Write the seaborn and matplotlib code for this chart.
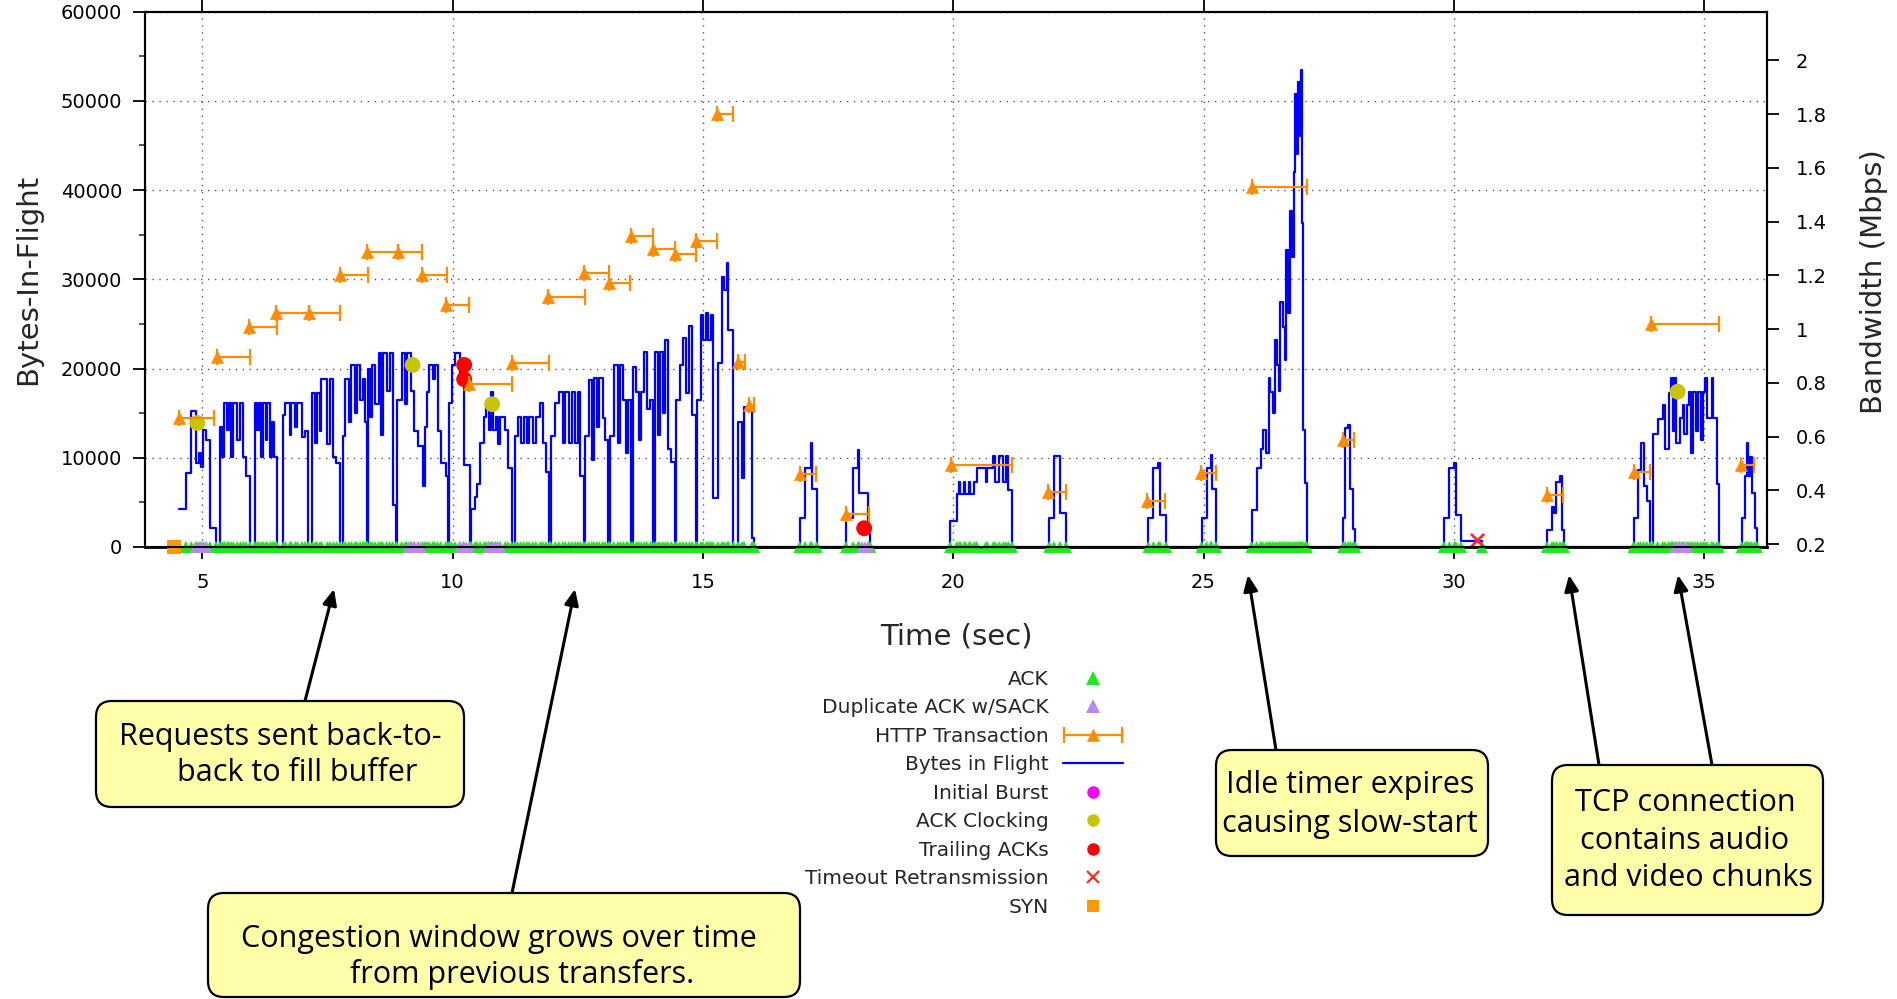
import numpy as np
import matplotlib
matplotlib.use("Agg")
import matplotlib.pyplot as plt
from matplotlib.lines import Line2D
from matplotlib.patches import FancyBboxPatch, FancyArrowPatch
from matplotlib.transforms import IdentityTransform
from matplotlib.legend_handler import HandlerErrorbar
from matplotlib.ticker import MultipleLocator, FormatStrFormatter
import seaborn as sns

sns.set_theme(style="white")
plt.rcParams["font.family"] = ["DejaVu Sans"]

# ---------------------------------------------------------------- data
# Bytes in flight (step curve): time in seconds, bytes outstanding
flight_t = [
    # long transfer 4.5 - 16 s
    4.54, 4.67, 4.78, 4.88, 4.93, 4.98, 5.02, 5.08, 5.15, 5.27,
    5.35, 5.40, 5.44, 5.50, 5.53, 5.58, 5.62, 5.70, 5.76, 5.82, 5.87, 5.95,
    6.05, 6.10, 6.13, 6.18, 6.22, 6.27, 6.30, 6.36, 6.40, 6.44, 6.485,
    6.62, 6.66, 6.75, 6.78, 6.86, 6.90, 6.99, 7.05, 7.12,
    7.20, 7.26, 7.29, 7.35, 7.38, 7.50, 7.55, 7.62, 7.68, 7.75,
    7.82, 7.86, 7.93, 7.98, 8.05, 8.08, 8.15, 8.20, 8.24, 8.28,
    8.30, 8.35, 8.39, 8.45, 8.52, 8.57, 8.60, 8.68, 8.74, 8.80, 8.87,
    8.88, 8.98, 9.05, 9.08, 9.16, 9.22, 9.31, 9.40, 9.45, 9.49, 9.53, 9.60,
    9.64, 9.70, 9.76, 9.86, 9.91,
    9.93, 9.98, 10.05, 10.14, 10.22, 10.35,
    10.37, 10.45, 10.48, 10.55, 10.63, 10.67, 10.72, 10.76, 10.80, 10.86,
    10.90, 10.95, 11.05, 11.10, 11.18,
    11.25, 11.30, 11.36, 11.42, 11.48, 11.53, 11.60, 11.66, 11.75, 11.80, 11.86, 11.93,
    11.96, 12.05, 12.12, 12.20, 12.25, 12.32, 12.38, 12.45, 12.50, 12.55, 12.62,
    12.65, 12.72, 12.78, 12.82, 12.88, 12.93, 13.00, 13.05, 13.11,
    13.14, 13.22, 13.30, 13.35, 13.41, 13.47, 13.50, 13.56,
    13.60, 13.67, 13.72, 13.77, 13.83, 13.88, 13.95, 14.01,
    14.05, 14.10, 14.14, 14.20, 14.25, 14.30, 14.37, 14.44,
    14.47, 14.54, 14.60, 14.66, 14.73, 14.78, 14.86,
    14.88, 14.96, 15.00, 15.07, 15.11, 15.16, 15.20, 15.30, 15.38, 15.42,
    15.48, 15.51, 15.61,
    15.70, 15.78, 15.82, 15.98, 16.02,
    # short transfers
    16.93, 17.04, 17.15, 17.17, 17.27,
    17.86, 18.00, 18.10, 18.12, 18.30, 18.34,
    19.94, 20.07, 20.12, 20.14, 20.22, 20.24, 20.32, 20.34, 20.42, 20.47,
    20.65, 20.68, 20.80, 20.84, 20.92, 21.00, 21.05, 21.10, 21.17,
    21.92, 22.01, 22.13, 22.25,
    23.90, 24.00, 24.10, 24.13, 24.25,
    24.96, 25.06, 25.14, 25.16, 25.25,
    # slow start after idle
    25.96, 26.06, 26.14, 26.18, 26.25, 26.30, 26.33, 26.38, 26.43, 26.47,
    26.51, 26.53, 26.58, 26.62, 26.65, 26.69, 26.73, 26.76, 26.80, 26.83,
    26.86, 26.89, 26.92, 26.94, 26.96, 26.99, 27.03, 27.06,
    27.79, 27.83, 27.89, 27.93, 27.99, 28.03,
    29.80, 29.91, 30.01, 30.04, 30.14, 30.56,
    31.86, 31.96, 32.00, 32.05, 32.12, 32.17, 32.20,
    33.59, 33.68, 33.73, 33.79, 33.85, 33.92,
    33.97, 34.07, 34.17, 34.22, 34.29, 34.34, 34.37, 34.40, 34.44, 34.51,
    34.57, 34.60, 34.65, 34.70, 34.74, 34.78, 34.83, 34.87, 34.93, 34.98,
    35.02, 35.06, 35.15, 35.18, 35.25, 35.29,
    35.75, 35.82, 35.85, 35.87, 35.91, 35.95, 36.01, 36.05,
]
flight_bytes = [
    4300, 8250, 15200, 9400, 10500, 9000, 13100, 12000, 2100, 0,
    13500, 10100, 16100, 13100, 16100, 10100, 16100, 12000, 16100, 10100, 7900, 0,
    16100, 13100, 16100, 10100, 16100, 12000, 16100, 10100, 14000, 10100, 0,
    14800, 16100, 12500, 16100, 13500, 16100, 12300, 13000, 0,
    17300, 11600, 17300, 13000, 18800, 11500, 18800, 10100, 9400, 0,
    12400, 18800, 14000, 20400, 15000, 20400, 16500, 18800, 14000, 0,
    20000, 14600, 20400, 16000, 21700, 12500, 21700, 17500, 21700, 4700, 0,
    16500, 21700, 16000, 21700, 17500, 13000, 11300, 6800, 13500, 17400, 20400, 18800,
    20400, 13000, 9400, 8000, 0,
    16100, 20400, 21700, 19000, 9200, 0,
    4300, 5600, 7100, 11600, 14600, 16100, 13100, 17400, 13100, 14600,
    11500, 14600, 13100, 8800, 0,
    12400, 14600, 11600, 14600, 11600, 14600, 11600, 14600, 16100, 11600, 8400, 0,
    12400, 16100, 17400, 11600, 17400, 11600, 17400, 11600, 17400, 8000, 0,
    12400, 18700, 9800, 18900, 13500, 18900, 14500, 12000, 0,
    12400, 20400, 11600, 20400, 16500, 10500, 16500, 0,
    20200, 17400, 12000, 17400, 21800, 15500, 16500, 0,
    21800, 12500, 21800, 15000, 23200, 11000, 9500, 0,
    16500, 20400, 23400, 17200, 24800, 14800, 0,
    16500, 26000, 23200, 26200, 23200, 26000, 5450, 20600, 30200, 28800,
    31800, 24300, 0,
    14000, 7700, 15700, 1000, 0,
    3300, 8900, 11600, 6500, 0,
    3300, 8900, 10900, 6000, 1500, 0,
    2950, 5900, 7300, 5900, 7300, 5900, 7300, 5900, 7300, 8900,
    7300, 8900, 10200, 7300, 10200, 7300, 10200, 6400, 0,
    3300, 10200, 3800, 0,
    3300, 8900, 9400, 3600, 0,
    3200, 8800, 10300, 6500, 0,
    4200, 8800, 11000, 13100, 10500, 18900, 17400, 15000, 23200, 20400,
    17500, 27500, 24700, 21000, 33300, 26200, 37600, 32500, 42000, 50800,
    44000, 52100, 46000, 53500, 36300, 13100, 7200, 0,
    3300, 13300, 13700, 6500, 2000, 0,
    3300, 8900, 9400, 3600, 700, 0,
    1900, 4500, 3800, 7300, 7900, 1900, 0,
    3300, 8600, 11600, 6800, 5100, 0,
    12700, 14300, 15900, 11000, 17300, 18900, 13000, 18900, 11600, 14400,
    15900, 12700, 15900, 17400, 10500, 17400, 13000, 17400, 12000, 17400,
    18900, 14500, 18900, 14500, 7100, 0,
    3300, 7900, 11600, 7900, 10100, 6000, 2100, 0,
]

# HTTP transactions: request time, completion time, bandwidth (Mbps)
http_start = [4.54, 5.29, 5.93, 6.47, 7.13, 7.75, 8.28, 8.90, 9.39, 9.87,
              10.32, 11.18, 11.91, 12.62, 13.13, 13.56, 14.01, 14.44, 14.86, 15.28,
              15.71, 15.92, 16.93, 17.86, 19.95, 21.90, 23.87, 24.94, 25.96, 27.79,
              31.86, 33.59, 33.93, 35.73]
http_end = [5.24, 5.95, 6.49, 7.13, 7.76, 8.30, 8.90, 9.38, 9.88, 10.33,
            11.18, 11.93, 12.65, 13.13, 13.55, 14.01, 14.44, 14.86, 15.29, 15.61,
            15.84, 16.03, 17.26, 18.32, 21.18, 22.25, 24.23, 25.24, 27.06, 28.01,
            32.18, 33.92, 35.30, 36.00]
http_mbps = [0.670, 0.897, 1.009, 1.059, 1.061, 1.201, 1.288, 1.288, 1.201, 1.090,
             0.796, 0.873, 1.120, 1.208, 1.173, 1.347, 1.297, 1.280, 1.329, 1.802,
             0.876, 0.717, 0.461, 0.312, 0.494, 0.392, 0.360, 0.465, 1.527, 0.587,
             0.382, 0.469, 1.020, 0.494]

# Duplicate ACKs carrying SACK blocks
dup_ack_t = [4.86, 4.92, 4.97, 5.03, 5.08, 9.12, 9.18, 9.24, 9.30, 9.36,
             10.15, 10.21, 10.27, 10.33, 10.72, 10.78, 10.84, 10.90, 10.95,
             18.18, 18.24, 18.30, 34.42, 34.48, 34.54, 34.60, 34.66]

syn_t = [4.43]
clock_t = [4.90, 9.20, 10.79, 34.47]
clock_bytes = [13900, 20400, 16000, 17400]
trail_t = [10.23, 10.23, 18.22]
trail_bytes = [20400, 18800, 2100]
timeout_t = [30.46]
timeout_bytes = [790]

legend_labels = ["ACK", "Duplicate ACK w/SACK", "HTTP Transaction", "Bytes in Flight",
                 "Initial Burst", "ACK Clocking", "Trailing ACKs",
                 "Timeout Retransmission", "SYN"]

callouts = [
    ["Requests sent back-to-", "back to fill buffer"],
    ["Congestion window grows over time", "from previous transfers."],
    ["Idle timer expires", "causing slow-start"],
    ["TCP connection", "contains audio", "and video chunks"],
]

# ---------------------------------------------------------------- style
W, H = 1897, 999
ACK_C = "#1ee81e"
DUP_C = "#b98af0"
HTTP_C = "#ff8c00"
FLIGHT_C = "#0000ff"
BURST_C = "#ff00ff"
CLOCK_C = "#c8c400"
TRAIL_C = "#ff0000"
TIMEOUT_C = "#ff2a2a"
SYN_C = "#ff9900"

fig = plt.figure(figsize=(W / 100, H / 100), dpi=100)
fig.patch.set_facecolor("white")
ax = fig.add_axes([145 / W, 1 - 547 / H, (1767 - 145) / W, (547 - 11.5) / H])
ax.set_facecolor("white")

# bytes-in-flight step curve
sns.lineplot(x=flight_t, y=flight_bytes, ax=ax, color=FLIGHT_C, linewidth=1.6,
             drawstyle="steps-post", estimator=None, sort=False, errorbar=None,
             zorder=3)

zeros = np.zeros(len(flight_t))
sns.scatterplot(x=flight_t, y=zeros, ax=ax, marker="^", s=75, color=ACK_C,
                edgecolor="none", linewidth=0, zorder=4, clip_on=False, legend=False)
sns.scatterplot(x=dup_ack_t, y=np.zeros(len(dup_ack_t)), ax=ax, marker="^", s=70,
                color=DUP_C, edgecolor="none", linewidth=0, zorder=4.5,
                clip_on=False, legend=False)
sns.scatterplot(x=syn_t, y=[0], ax=ax, marker="s", s=110, color=SYN_C,
                edgecolor="none", linewidth=0, zorder=5, clip_on=False, legend=False)
sns.scatterplot(x=clock_t, y=clock_bytes, ax=ax, marker="o", s=130, color=CLOCK_C,
                edgecolor="none", linewidth=0, zorder=5, legend=False)
sns.scatterplot(x=trail_t, y=trail_bytes, ax=ax, marker="o", s=130, color=TRAIL_C,
                edgecolor="none", linewidth=0, zorder=5, legend=False)
sns.scatterplot(x=timeout_t, y=timeout_bytes, ax=ax, marker="x", s=90, color=TIMEOUT_C,
                linewidth=2, zorder=5, legend=False)

ax.set_xlim(3.855, 36.256)
ax.set_ylim(0, 60000)
ax.set_xticks(range(5, 36, 5))
ax.set_yticks(range(0, 60001, 10000))
ax.yaxis.set_minor_locator(MultipleLocator(5000))
ax.set_xlabel("")
ax.set_ylabel("")
ax.set_axisbelow(True)
ax.grid(True, which="major", color="#555555", linestyle=(0, (1, 4)), linewidth=1.0)
ax.tick_params(axis="both", which="major", direction="out", length=8.5, width=1.3,
               labelsize=14, colors="black")
ax.tick_params(axis="x", top=True, bottom=True, labeltop=False, pad=10)
ax.tick_params(axis="y", left=True, right=False, pad=8)
ax.tick_params(axis="y", which="minor", direction="out", length=4, width=1.1, left=True)

# bandwidth axis holding the HTTP transactions
ax2 = ax.twinx()
ax2.set_ylim(0.189, 2.182)
ax2.set_yticks(np.arange(0.2, 2.01, 0.2))
ax2.yaxis.set_major_formatter(FormatStrFormatter("%g"))
ax2.tick_params(axis="y", direction="out", length=8.5, width=1.3, labelsize=14,
                colors="black", pad=12)
dur = np.array(http_end) - np.array(http_start)
eb = ax2.errorbar(http_start, http_mbps, xerr=[np.zeros_like(dur), dur], fmt="^",
                  color=HTTP_C, ms=9, markeredgecolor=HTTP_C, capsize=5,
                  elinewidth=1.6, capthick=1.6, zorder=5)
for cap in eb.lines[1]:
    cap.set_markeredgewidth(1.6)
    cap.set_markersize(12)
eb.lines[0].set_markeredgewidth(0.5)
ax2.grid(False)

for a in (ax, ax2):
    for side, sp in a.spines.items():
        sp.set_color("black")
        sp.set_linewidth(1.5)
ax.spines["bottom"].set_linewidth(2.0)

# axis titles
fig.text(28.5 / W, 1 - 279 / H, "Bytes-In-Flight", rotation=90, ha="center",
         va="center", fontsize=21)
fig.text(1874 / W, 1 - 282 / H, "Bandwidth (Mbps)", rotation=90, ha="center",
         va="center", fontsize=21)
fig.text(956 / W, 1 - 636 / H, "Time (sec)", ha="center", va="center", fontsize=21)

# legend
handles = [
    Line2D([], [], ls="none", marker="^", color=ACK_C, ms=10, mew=0),
    Line2D([], [], ls="none", marker="^", color=DUP_C, ms=10, mew=0),
    eb,
    Line2D([], [], color=FLIGHT_C, lw=1.6),
    Line2D([], [], ls="none", marker="o", color=BURST_C, ms=9, mew=0),
    Line2D([], [], ls="none", marker="o", color=CLOCK_C, ms=9, mew=0),
    Line2D([], [], ls="none", marker="o", color=TRAIL_C, ms=9, mew=0),
    Line2D([], [], ls="none", marker="x", color=TIMEOUT_C, ms=9, mew=1.6),
    Line2D([], [], ls="none", marker="s", color=SYN_C, ms=9, mew=0),
]
fig.legend(handles, legend_labels, loc="upper right",
           bbox_to_anchor=(1123 / W, 1 - 670 / H), frameon=False, markerfirst=False,
           fontsize=14.5, handlelength=3.0, handletextpad=0.7, labelspacing=0.47,
           borderpad=0, borderaxespad=0, numpoints=1,
           handler_map={eb: HandlerErrorbar(xerr_size=1.45)})

# call-out boxes with arrows (pixel positions, origin top-left)
boxes = [(96, 701, 464, 807), (208, 893, 800, 997), (1216, 750, 1488, 856),
         (1552, 765, 1823, 915)]
text_pos = [[(280, 737), (297, 773)],
            [(499, 939), (522, 974)],
            [(1350, 785), (1350, 824)],
            [(1685, 803), (1685, 841), (1688, 878)]]
arrows = [((305, 701), (334, 589)), ((512, 893), (575, 589)),
          ((1276, 750), (1248, 575)), ((1599, 765), (1569, 575)),
          ((1712, 765), (1678, 575))]

for (x0, y0), (x1, y1) in arrows:
    arr = FancyArrowPatch((x0, H - y0), (x1, H - y1), transform=IdentityTransform(),
                          arrowstyle="-|>,head_length=0.95,head_width=0.42",
                          mutation_scale=10, linewidth=2.2, color="black",
                          shrinkA=0, shrinkB=0, zorder=6)
    fig.add_artist(arr)

for (x0, y0, x1, y1) in boxes:
    box = FancyBboxPatch((x0, H - y1), x1 - x0, y1 - y0,
                         boxstyle="round,pad=0,rounding_size=16",
                         transform=IdentityTransform(), facecolor="#ffffaa",
                         edgecolor="black", linewidth=1.6, zorder=7)
    fig.add_artist(box)

for lines, positions in zip(callouts, text_pos):
    for txt, (x, y) in zip(lines, positions):
        fig.text(x / W, 1 - y / H, txt, ha="center", va="center", fontsize=22,
                 family=["Open Sans", "DejaVu Sans"], color="black", zorder=8)

fig.savefig("out.png", dpi=100, facecolor="white")
